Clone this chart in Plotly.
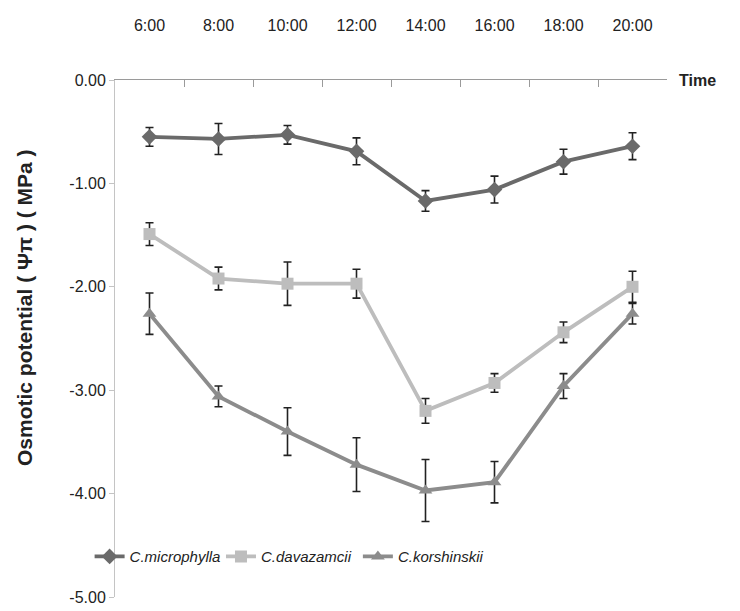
import plotly.graph_objects as go

times = ["6:00", "8:00", "10:00", "12:00", "14:00", "16:00", "18:00", "20:00"]
series_names = ["C.microphylla", "C.davazamcii", "C.korshinskii"]
microphylla = [-0.55, -0.57, -0.53, -0.69, -1.17, -1.06, -0.79, -0.64]
microphylla_err = [0.09, 0.15, 0.09, 0.13, 0.10, 0.13, 0.12, 0.13]
davazamcii = [-1.49, -1.92, -1.97, -1.97, -3.20, -2.93, -2.44, -2.00]
davazamcii_err = [0.11, 0.11, 0.21, 0.14, 0.12, 0.09, 0.10, 0.15]
korshinskii = [-2.26, -3.06, -3.40, -3.72, -3.97, -3.89, -2.96, -2.26]
korshinskii_err = [0.20, 0.10, 0.23, 0.26, 0.30, 0.20, 0.12, 0.10]
y_tick_values = [0, -1, -2, -3, -4, -5]
y_tick_labels = ["0.00", "-1.00", "-2.00", "-3.00", "-4.00", "-5.00"]

colors = ["#6a6a6a", "#bdbdbd", "#8c8c8c"]
symbols = ["diamond", "square", "triangle-up"]
values = [microphylla, davazamcii, korshinskii]
errors = [microphylla_err, davazamcii_err, korshinskii_err]
legend_ids = ["legend", "legend2", "legend3"]
legend_x = [-0.046, 0.192, 0.44]

font_main = "Liberation Sans Narrow, Liberation Sans, Arial, sans-serif"

fig = go.Figure()
for name, vals, errs, col, sym, lg in zip(series_names, values, errors, colors, symbols, legend_ids):
    fig.add_trace(go.Scatter(
        x=times, y=vals, name=name, mode="lines+markers",
        line=dict(color=col, width=3.8),
        marker=dict(symbol=sym, size=12, color=col),
        error_y=dict(type="data", array=errs, visible=True,
                     color="#222222", thickness=1.6, width=4),
        legend=lg,
    ))

legend_common = dict(orientation="h", y=0.078, xanchor="left", yanchor="middle",
                     bgcolor="rgba(0,0,0,0)", itemwidth=30,
                     font=dict(family=font_main, size=15, color="#222222", style="italic"))

fig.update_layout(
    width=732, height=603,
    margin=dict(l=107, r=73, t=72, b=14, autoexpand=False),
    paper_bgcolor="white", plot_bgcolor="white",
    font=dict(family=font_main, size=15, color="#222222"),
    showlegend=True,
    legend=dict(x=legend_x[0], **legend_common),
    legend2=dict(x=legend_x[1], **legend_common),
    legend3=dict(x=legend_x[2], **legend_common),
    xaxis=dict(
        type="category", side="top", showline=True, linecolor="#9a9a9a", linewidth=1.2,
        ticks="inside", tickson="boundaries", ticklen=7, tickcolor="#9a9a9a",
        showgrid=False, zeroline=False, ticklabelstandoff=42, automargin=False,
        tickfont=dict(family=font_main, size=16, color="#222222"),
        range=[-0.5, 7.5],
    ),
    yaxis=dict(
        range=[-5, 0], tickvals=y_tick_values, ticktext=y_tick_labels,
        showline=True, linecolor="#c4c4c4", linewidth=1,
        ticks="outside", ticklen=5, tickcolor="#c4c4c4",
        showgrid=False, zeroline=False, automargin=False,
        tickfont=dict(family=font_main, size=16, color="#222222"),
    ),
    annotations=[
        dict(text="<b>Osmotic potential ( Ψπ ) ( MPa )</b>", xref="paper", yref="paper",
             x=-0.163, y=0.559, textangle=-90, showarrow=False,
             xanchor="center", yanchor="middle",
             font=dict(family="Liberation Sans, Arial, sans-serif", size=21, color="#222222")),
        dict(text="<b>Time</b>", xref="paper", yref="paper",
             x=1.055, y=1.0, showarrow=False, xanchor="center", yanchor="middle",
             font=dict(family=font_main, size=16, color="#222222")),
    ],
)

fig.write_html("out.html")
